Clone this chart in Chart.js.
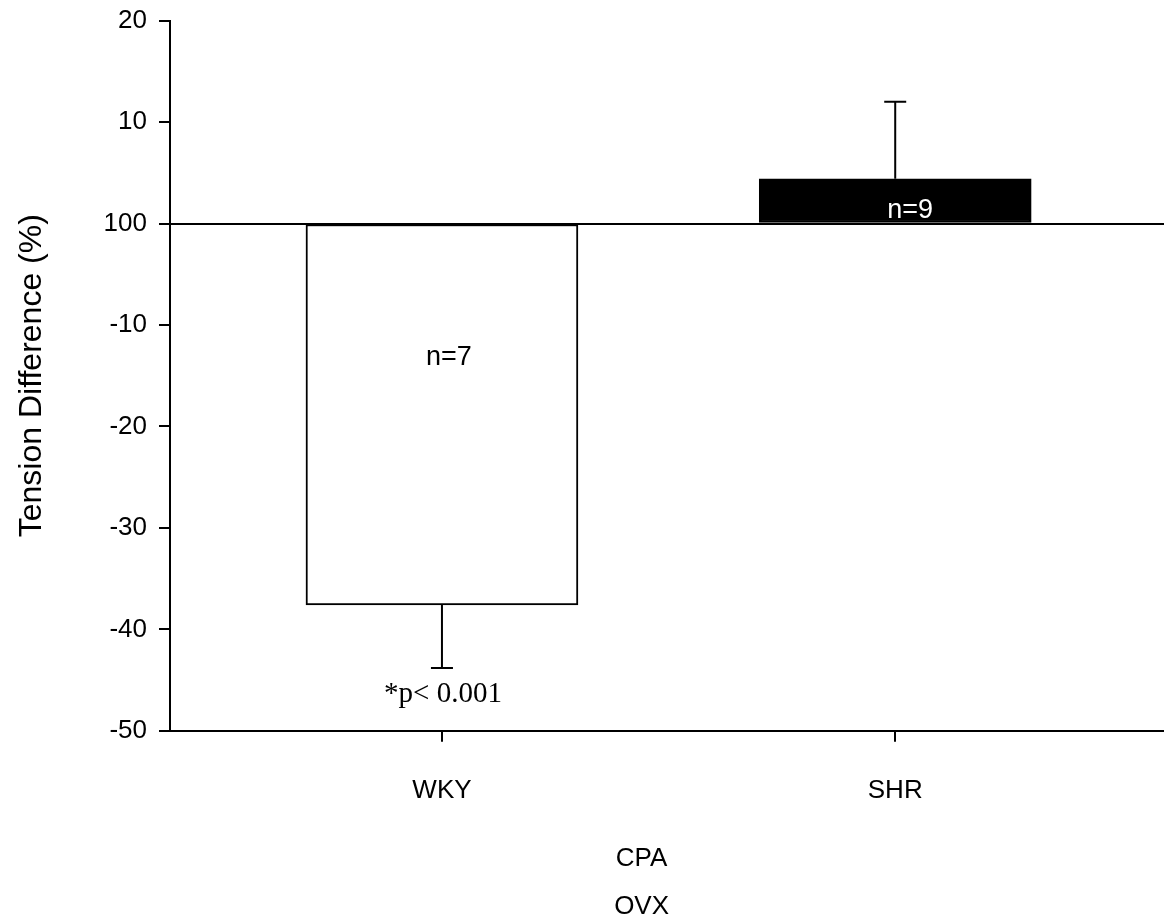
<!DOCTYPE html>
<html>
<head>
<meta charset="utf-8">
<script src="https://cdn.jsdelivr.net/npm/chart.js@4.4.1/dist/chart.umd.min.js"></script>
<style>
  html, body { margin: 0; padding: 0; background: #fff; overflow: hidden; }
  #chart { display: block; margin-top: -7px; }
</style>
</head>
<body>
<canvas id="chart" width="1164" height="925"></canvas>
<script>
// values
const groups = ['WKY', 'SHR'];
const groupPos = [1, 2];
const tension = [-37.6, 4.4];
const errors = [6.2, 7.6];
const nLabels = ['n=7', 'n=9'];
const yTicks = [-50, -40, -30, -20, -10, 0, 10, 20];
const yTickLabels = ['-50', '-40', '-30', '-20', '-10', '100', '10', '20'];
const subTitle = ['CPA', 'OVX'];
const pNote = '*p< 0.001';

const sans = 'Liberation Sans, Arial, sans-serif';

// error bars + text inside the plot
const extras = {
  id: 'extras',
  afterDatasetsDraw(chart) {
    const ctx = chart.ctx;
    const xs = chart.scales.x, ys = chart.scales.y;
    ctx.save();
    ctx.strokeStyle = '#000';
    ctx.lineWidth = 2;
    tension.forEach((v, i) => {
      const x = xs.getPixelForValue(groupPos[i]);
      const end = v < 0 ? v - errors[i] : v + errors[i];
      const y0 = ys.getPixelForValue(v);
      const y1 = ys.getPixelForValue(end);
      ctx.beginPath();
      ctx.moveTo(x, y0);
      ctx.lineTo(x, y1);
      ctx.moveTo(x - 11, y1);
      ctx.lineTo(x + 11, y1);
      ctx.stroke();
    });

    ctx.font = '27px ' + sans;
    ctx.textAlign = 'center';
    ctx.textBaseline = 'alphabetic';
    // n=7 inside the white bar, n=9 inside the black one
    ctx.fillStyle = '#000';
    ctx.fillText(nLabels[0], xs.getPixelForValue(groupPos[0]) + 7, ys.getPixelForValue(0) + 141);
    ctx.fillStyle = '#fff';
    ctx.fillText(nLabels[1], xs.getPixelForValue(groupPos[1]) + 15, ys.getPixelForValue(0) - 6);

    ctx.fillStyle = '#000';
    ctx.font = '29px Liberation Serif, Times New Roman, serif';
    const capY = ys.getPixelForValue(tension[0] - errors[0]);
    ctx.fillText(pNote, xs.getPixelForValue(groupPos[0]) + 1, capY + 34);

    // group title under the x axis
    ctx.font = '26px ' + sans;
    ctx.textBaseline = 'middle';
    const midX = (xs.getPixelForValue(groupPos[0]) + xs.getPixelForValue(groupPos[1])) / 2 - 27;
    subTitle.forEach((t, i) => {
      ctx.fillText(t, midX, chart.chartArea.bottom + 128 + i * 48);
    });
    ctx.restore();
  }
};

new Chart(document.getElementById('chart'), {
  type: 'bar',
  data: {
    datasets: [{
      data: groupPos.map((x, i) => ({ x: x, y: tension[i] })),
      backgroundColor: ['#ffffff', '#000000'],
      borderColor: '#000',
      borderWidth: 2,
      borderSkipped: false,
      barThickness: 272
    }]
  },
  options: {
    responsive: false,
    animation: false,
    devicePixelRatio: 1,
    layout: { padding: { left: 10, right: 0, top: 0, bottom: 79 } },
    plugins: { legend: { display: false }, tooltip: { enabled: false } },
    scales: {
      x: {
        type: 'linear',
        offset: false,
        min: 0.4,
        max: 2.593,
        afterBuildTicks: s => { s.ticks = groupPos.map(v => ({ value: v })); },
        ticks: {
          color: '#000',
          font: { family: sans, size: 26 },
          padding: 33,
          autoSkip: false,
          maxRotation: 0,
          callback: v => groups[groupPos.indexOf(v)]
        },
        grid: { offset: false, drawOnChartArea: false, tickLength: 11, tickColor: '#000', lineWidth: 2 },
        border: { display: true, color: '#000', width: 2 }
      },
      y: {
        min: -50,
        max: 20,
        afterBuildTicks: s => { s.ticks = yTicks.map(v => ({ value: v })); },
        afterFit: s => { s.width = 160; },
        ticks: {
          color: '#000',
          font: { family: sans, size: 26 },
          padding: 12,
          callback: v => yTickLabels[yTicks.indexOf(v)]
        },
        grid: {
          drawOnChartArea: true,
          color: c => (c.tick && c.tick.value === 0 ? '#000' : 'rgba(0,0,0,0)'),
          tickColor: '#000',
          tickLength: 11,
          lineWidth: 2
        },
        border: { display: true, color: '#000', width: 2 },
        title: {
          display: true,
          text: 'Tension Difference (%)',
          color: '#000',
          font: { family: sans, size: 32, weight: 'normal' },
          padding: { top: 3, bottom: 4 }
        }
      }
    }
  },
  plugins: [extras]
});
</script>
</body>
</html>
